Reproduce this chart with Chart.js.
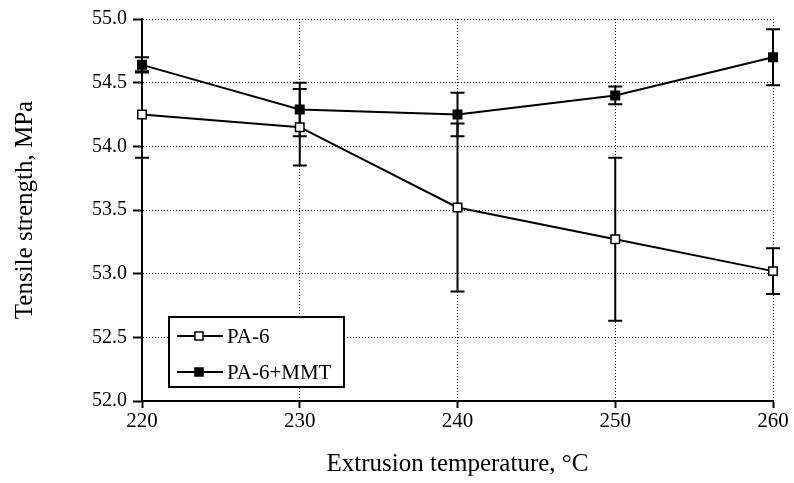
<!DOCTYPE html>
<html>
<head>
<meta charset="utf-8">
<script src="https://cdn.jsdelivr.net/npm/chart.js@4/dist/chart.umd.min.js"></script>
<style>
	html, body { margin: 0; padding: 0; background: #fff; }
	#wrapper-tensile { width: 794px; height: 483px; }
</style>
</head>
<body>
<div id="wrapper-tensile"><canvas id="lc-tensile"></canvas></div>
<script>
const temps = [220, 230, 240, 250, 260];
const pa6 = [54.25, 54.15, 53.52, 53.27, 53.02];
const pa6Err = [0.34, 0.30, 0.66, 0.64, 0.18];
const pa6Mmt = [54.64, 54.29, 54.25, 54.40, 54.70];
const pa6MmtErr = [0.06, 0.21, 0.17, 0.07, 0.22];
const seriesNames = ["PA-6", "PA-6+MMT"];

const serif = "'Liberation Serif', 'Times New Roman', serif";

// error bars drawn under the lines, using the chart's own scales
const errorBars = {
	id: "errorBars",
	beforeDatasetsDraw(chart) {
		const ctx = chart.ctx;
		const xs = chart.scales.x;
		const ys = chart.scales.y;
		ctx.save();
		ctx.strokeStyle = "#000";
		ctx.lineWidth = 2;
		chart.data.datasets.forEach((ds) => {
			ds.data.forEach((p, i) => {
				let x = xs.getPixelForValue(p.x);
				let yTop = ys.getPixelForValue(p.y + ds.errors[i]);
				let yBot = ys.getPixelForValue(p.y - ds.errors[i]);
				ctx.beginPath();
				ctx.moveTo(x, yTop);
				ctx.lineTo(x, yBot);
				ctx.moveTo(x - 7, yTop);
				ctx.lineTo(x + 7, yTop);
				ctx.moveTo(x - 7, yBot);
				ctx.lineTo(x + 7, yBot);
				ctx.stroke();
			});
		});
		ctx.restore();
	},
};

// boxed legend inside the plot area
const boxLegend = {
	id: "boxLegend",
	afterDraw(chart) {
		const ctx = chart.ctx;
		const area = chart.chartArea;
		const left = area.left + 27;
		const top = area.top + 298;
		ctx.save();
		ctx.fillStyle = "#fff";
		ctx.fillRect(left, top, 175, 70);
		ctx.strokeStyle = "#000";
		ctx.lineWidth = 2;
		ctx.strokeRect(left, top, 175, 70);
		chart.data.datasets.forEach((ds, idx) => {
			let y = top + 19 + idx * 36;
			ctx.beginPath();
			ctx.moveTo(left + 8, y);
			ctx.lineTo(left + 54, y);
			ctx.lineWidth = 2;
			ctx.stroke();
			ctx.fillStyle = ds.pointBackgroundColor;
			ctx.fillRect(left + 26, y - 4, 8, 8);
			ctx.lineWidth = 1.5;
			ctx.strokeRect(left + 26, y - 4, 8, 8);
			ctx.fillStyle = "#000";
			ctx.font = "21px " + serif;
			ctx.textBaseline = "middle";
			ctx.fillText(ds.label, left + 58, y + 1);
		});
		ctx.restore();
	},
};

const makeSeries = (label, values, errors, fill) => ({
	label: label,
	data: temps.map((t, i) => ({ x: t, y: values[i] })),
	errors: errors,
	borderColor: "#000",
	borderWidth: 2,
	pointStyle: "rect",
	pointRadius: 6,
	pointBorderWidth: 1.5,
	pointBackgroundColor: fill,
	pointBorderColor: "#000",
	tension: 0,
	clip: false,
});

const ctx = document.getElementById("lc-tensile").getContext("2d");

new Chart(ctx, {
	type: "line",
	data: {
		datasets: [
			makeSeries(seriesNames[0], pa6, pa6Err, "#fff"),
			makeSeries(seriesNames[1], pa6Mmt, pa6MmtErr, "#000"),
		],
	},
	options: {
		responsive: true,
		maintainAspectRatio: false,
		animation: false,
		layout: {
			padding: { top: 19, right: 21, left: 0, bottom: 0 },
		},
		scales: {
			x: {
				type: "linear",
				min: 220,
				max: 260,
				afterFit: (scale) => { scale.height = 82; },
				ticks: {
					stepSize: 10,
					color: "#000",
					padding: 1,
					font: { family: serif, size: 21 },
				},
				grid: {
					color: "#000",
					lineWidth: 1,
					tickLength: 7,
					tickColor: "#000",
					tickWidth: 2,
					tickBorderDash: [],
				},
				border: { color: "#000", width: 2, dash: [1, 2] },
				title: {
					display: true,
					text: "Extrusion temperature, °C",
					color: "#000",
					font: { family: serif, size: 25 },
					padding: { top: 4, bottom: 4 },
				},
			},
			y: {
				min: 52,
				max: 55,
				afterFit: (scale) => { scale.width = 142; },
				ticks: {
					stepSize: 0.5,
					color: "#000",
					padding: 6,
					font: { family: serif, size: 20 },
					callback: (v) => Number(v).toFixed(1),
				},
				grid: {
					color: "#000",
					lineWidth: 1,
					tickLength: 9,
					tickColor: "#000",
					tickWidth: 2,
					tickBorderDash: [],
				},
				border: { color: "#000", width: 2, dash: [1, 2] },
				title: {
					display: true,
					text: "Tensile strength, MPa",
					color: "#000",
					font: { family: serif, size: 25 },
					padding: { top: 10, bottom: 4 },
				},
			},
		},
		plugins: {
			legend: { display: false },
			tooltip: { enabled: false },
		},
	},
	plugins: [errorBars, boxLegend],
});
</script>
</body>
</html>
